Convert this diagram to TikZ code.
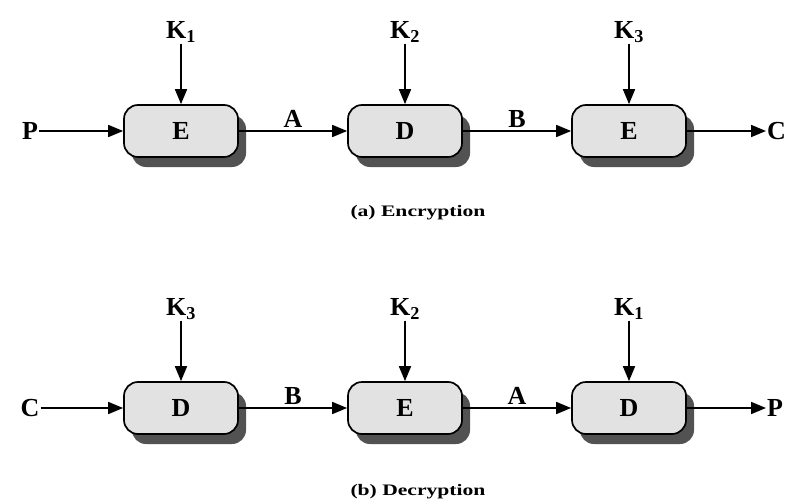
\documentclass[tikz,border=0pt]{standalone}
\usepackage{fontspec}
\setmainfont{Liberation Serif}
\usetikzlibrary{arrows.meta,shadows}
\begin{document}
\begin{tikzpicture}[x=1pt,y=-1pt,
  blk/.style={draw=black,line width=1.7pt,fill=boxgray,rounded corners=14pt,
    minimum width=114pt,minimum height=52pt,inner sep=0pt,
    font=\bfseries\fontsize{26}{26}\selectfont,
    drop shadow={shadow xshift=8pt,shadow yshift=-10pt,fill=black!68,opacity=1}},
  lbl/.style={font=\bfseries\fontsize{26}{26}\selectfont,inner sep=1pt},
  captext/.style={font=\bfseries\fontsize{16}{16}\selectfont},
  arr/.style={line width=1.7pt,-{Triangle[length=15pt,width=12pt]}}]
\definecolor{boxgray}{HTML}{E2E2E2}
\useasboundingbox (0,0) rectangle (798,503);
% row a
\node[blk] (a1) at (181,131) {E};
\node[blk] (a2) at (405,131) {D};
\node[blk] (a3) at (629,131) {E};
\node[lbl] (aP) at (30,131) {P};
\node[lbl,anchor=west] (aC) at (766,131) {C};
\node[lbl] (ak1) at (181,32) {K\textsubscript{1}};
\node[lbl] (ak2) at (405,32) {K\textsubscript{2}};
\node[lbl] (ak3) at (629,32) {K\textsubscript{3}};
\draw[arr] (aP) -- (a1);
\draw[arr] (a1) -- node[lbl,above=2pt] (aA) {A} (a2);
\draw[arr] (a2) -- node[lbl,above=2pt] (aB) {B} (a3);
\draw[arr] (a3) -- (aC);
\draw[arr] (ak1) -- (a1);
\draw[arr] (ak2) -- (a2);
\draw[arr] (ak3) -- (a3);
\node[captext] (capa) at (418,213) {\scalebox{1.35}[1]{(a) Encryption}};
% row b
\node[blk] (b1) at (181,408) {D};
\node[blk] (b2) at (405,408) {E};
\node[blk] (b3) at (629,408) {D};
\node[lbl] (bC) at (30,408) {C};
\node[lbl,anchor=west] (bP) at (766,408) {P};
\node[lbl] (bk3) at (181,309) {K\textsubscript{3}};
\node[lbl] (bk2) at (405,309) {K\textsubscript{2}};
\node[lbl] (bk1) at (629,309) {K\textsubscript{1}};
\draw[arr] (bC) -- (b1);
\draw[arr] (b1) -- node[lbl,above=2pt] (bB) {B} (b2);
\draw[arr] (b2) -- node[lbl,above=2pt] (bA) {A} (b3);
\draw[arr] (b3) -- (bP);
\draw[arr] (bk3) -- (b1);
\draw[arr] (bk2) -- (b2);
\draw[arr] (bk1) -- (b3);
\node[captext] (capb) at (418,492) {\scalebox{1.35}[1]{(b) Decryption}};
\end{tikzpicture}
\end{document}
